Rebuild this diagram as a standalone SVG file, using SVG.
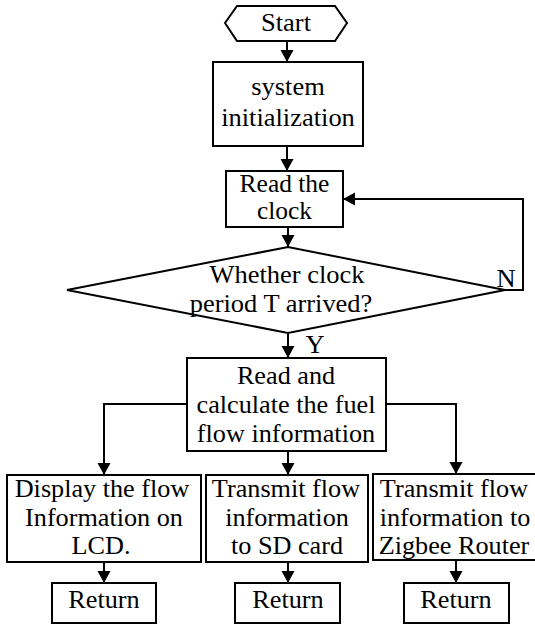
<svg xmlns="http://www.w3.org/2000/svg" width="535" height="625" viewBox="0 0 535 625">
<style>
.s{fill:#fff;stroke:#000;stroke-width:2}
.c{fill:none;stroke:#000;stroke-width:2}
.t{font-family:'Liberation Serif','Times New Roman',serif;font-size:24.5px;fill:#000;text-anchor:middle}
</style>
<defs>
<marker id="a" markerUnits="userSpaceOnUse" markerWidth="14" markerHeight="14" refX="12" refY="6.5" orient="auto">
<path d="M0,0 L12,6.5 L0,13 z" fill="#000"/>
</marker>
</defs>
<rect width="535" height="625" fill="#fff"/>
<g id="connectors">
<line class="c" x1="287" y1="41" x2="287" y2="62" marker-end="url(#a)"/>
<line class="c" x1="287" y1="146" x2="287" y2="171" marker-end="url(#a)"/>
<line class="c" x1="288" y1="227" x2="288" y2="247" marker-end="url(#a)"/>
<polyline class="c" points="505,290 523,290 523,199 343,199" marker-end="url(#a)"/>
<line class="c" x1="288" y1="333" x2="288" y2="358" marker-end="url(#a)"/>
<polyline class="c" points="187,404 104,404 104,475" marker-end="url(#a)"/>
<line class="c" x1="288" y1="451" x2="288" y2="475" marker-end="url(#a)"/>
<polyline class="c" points="386,404 456,404 456,474" marker-end="url(#a)"/>
<line class="c" x1="104" y1="562" x2="104" y2="583" marker-end="url(#a)"/>
<line class="c" x1="288" y1="562" x2="288" y2="583" marker-end="url(#a)"/>
<line class="c" x1="456" y1="560" x2="456" y2="583" marker-end="url(#a)"/>
<text class="t" transform="translate(506,287) scale(1.08,1)">N</text>
<text class="t" transform="translate(315,353) scale(1.08,1)">Y</text>
</g>
<g id="start">
<polygon class="s" points="225,23 237,6 335,6 347,23 335,41 237,41"/>
<text class="t" transform="translate(286,30.5) scale(1.08,1)">Start</text>
</g>
<g id="init">
<rect class="s" x="213" y="62" width="150" height="84"/>
<text class="t" transform="translate(288,95) scale(1.08,1)">system</text>
<text class="t" transform="translate(288,126) scale(1.08,1)">initialization</text>
</g>
<g id="readclock">
<rect class="s" x="226" y="171" width="117" height="56"/>
<text class="t" transform="translate(284.5,192) scale(1.04,1)">Read the</text>
<text class="t" transform="translate(284.5,219) scale(1.04,1)">clock</text>
</g>
<g id="decision">
<polygon class="s" points="67,290 288,247 505,290 288,333"/>
<text class="t" transform="translate(287,283) scale(1.08,1)">Whether clock</text>
<text class="t" transform="translate(281,312) scale(1.08,1)">period T arrived?</text>
</g>
<g id="calc">
<rect class="s" x="187" y="358" width="199" height="93"/>
<text class="t" transform="translate(286,384) scale(1.07,1)">Read and</text>
<text class="t" transform="translate(286,413) scale(1.07,1)">calculate the fuel</text>
<text class="t" transform="translate(286,442) scale(1.07,1)">flow information</text>
</g>
<g id="lcd">
<rect class="s" x="7" y="475" width="194" height="87"/>
<text class="t" transform="translate(102,497) scale(1.07,1)">Display the flow</text>
<text class="t" transform="translate(104,526) scale(1.07,1)">Information on</text>
<text class="t" transform="translate(101,554) scale(1.07,1)">LCD.</text>
</g>
<g id="sd">
<rect class="s" x="206" y="475" width="162" height="87"/>
<text class="t" transform="translate(286,497) scale(1.07,1)">Transmit flow</text>
<text class="t" transform="translate(287,526) scale(1.07,1)">information</text>
<text class="t" transform="translate(287,554) scale(1.07,1)">to SD card</text>
</g>
<g id="zigbee">
<rect class="s" x="373" y="474" width="164" height="86"/>
<text class="t" transform="translate(454,497) scale(1.07,1)">Transmit flow</text>
<text class="t" transform="translate(455,526) scale(1.07,1)">information to</text>
<text class="t" transform="translate(454,554) scale(1.07,1)">Zigbee Router</text>
</g>
<g id="return1">
<rect class="s" x="52" y="583" width="104" height="40"/>
<text class="t" transform="translate(104,608) scale(1.07,1)">Return</text>
</g>
<g id="return2">
<rect class="s" x="235" y="583" width="105" height="40"/>
<text class="t" transform="translate(288,608) scale(1.07,1)">Return</text>
</g>
<g id="return3">
<rect class="s" x="404" y="583" width="105" height="40"/>
<text class="t" transform="translate(456,608) scale(1.07,1)">Return</text>
</g>
</svg>
